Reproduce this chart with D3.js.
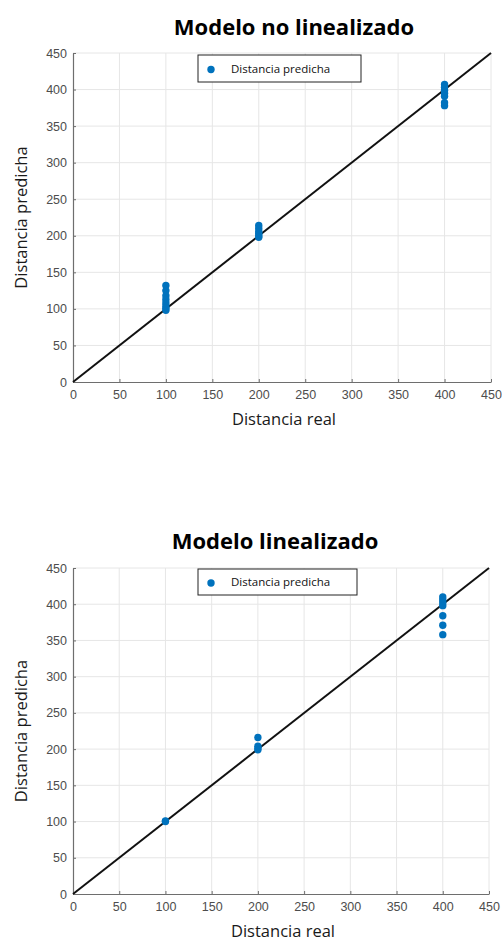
<!DOCTYPE html>
<html><head><meta charset="utf-8">
<script src="https://cdn.jsdelivr.net/npm/d3@7"></script>
<style>body{margin:0;background:#fff}svg{display:block}</style>
</head><body>
<script>
const ticks = [0,50,100,150,200,250,300,350,400,450];
const titles = ["Modelo no linealizado", "Modelo linealizado"];
const xLabel = "Distancia real";
const yLabel = "Distancia predicha";
const legendLabel = "Distancia predicha";
// Chart 1: non-linearized model
const real1 = [100,100,100,100,100,100,100,100, 200,200,200,200,200,200, 400,400,400,400,400,400,400];
const pred1 = [132,125,118,113,108,104,101,98, 214,210,206,203,200,198, 407,403,399,395,391,382,378];
// Chart 2: linearized model
const real2 = [100,100, 200,200,200,200, 400,400,400,400,400,400,400];
const pred2 = [101,100, 216,204,201,199, 410,406,402,398,384,371,358];

const W = 502, H = 941;
const svg = d3.select("body").append("svg").attr("width", W).attr("height", H);

const panels = [
  {title: titles[0], real: real1, pred: pred1, x0: 73, x1: 491, y0: 382, y1: 53, titleX: 294, titleY: 35,
   leg: {x: 198, y: 55, w: 163, h: 27}},
  {title: titles[1], real: real2, pred: pred2, x0: 73, x1: 489, y0: 894, y1: 568, titleX: 275, titleY: 549,
   leg: {x: 198, y: 569, w: 159, h: 26}}
];

panels.forEach(p => {
  const x = d3.scaleLinear().domain([0,450]).range([p.x0, p.x1]);
  const y = d3.scaleLinear().domain([0,450]).range([p.y0, p.y1]);
  const g = svg.append("g");

  // grid
  g.append("g").selectAll("line").data(ticks.slice(1)).join("line")
    .attr("x1", d => x(d)).attr("x2", d => x(d)).attr("y1", p.y0).attr("y2", p.y1)
    .attr("stroke", "#e6e6e6").attr("stroke-width", 1);
  g.append("g").selectAll("line").data(ticks.slice(1)).join("line")
    .attr("y1", d => y(d)).attr("y2", d => y(d)).attr("x1", p.x0).attr("x2", p.x1)
    .attr("stroke", "#e6e6e6").attr("stroke-width", 1);

  // axes (ticks pointing inward)
  const xa = g.append("g").attr("transform", `translate(0,${p.y0})`)
    .call(d3.axisBottom(x).tickValues(ticks).tickSizeInner(-3).tickSizeOuter(0).tickPadding(8));
  const ya = g.append("g").attr("transform", `translate(${p.x0},0)`)
    .call(d3.axisLeft(y).tickValues(ticks).tickSizeInner(-3).tickSizeOuter(0).tickPadding(6));
  [xa, ya].forEach(a => {
    a.select(".domain").attr("stroke", "#6e6e6e").attr("stroke-width", 1.2);
    a.selectAll(".tick line").attr("stroke", "#6e6e6e");
    a.selectAll("text").attr("fill", "#4d4d4d").attr("font-family", "Liberation Sans, Arial, sans-serif").attr("font-size", 12.5);
  });
  xa.selectAll("text").attr("dy", "0.71em");

  // diagonal reference line
  g.append("line").attr("x1", x(0)).attr("y1", y(0)).attr("x2", x(450)).attr("y2", y(450))
    .attr("stroke", "#111").attr("stroke-width", 2);

  // points
  g.append("g").selectAll("circle").data(p.real.map((r,i) => [r, p.pred[i]])).join("circle")
    .attr("cx", d => x(d[0])).attr("cy", d => y(d[1])).attr("r", 3.7)
    .attr("fill", "#0072BD");

  // title
  svg.append("text").attr("x", p.titleX).attr("y", p.titleY).attr("text-anchor", "middle")
    .attr("font-family", "Open Sans, sans-serif").attr("font-weight", "bold").attr("font-size", 22)
    .attr("fill", "#000").text(p.title);

  // axis labels
  svg.append("text").attr("x", (p.x0 + p.x1)/2 + 2).attr("y", p.y0 + 43).attr("text-anchor", "middle")
    .attr("font-family", "Open Sans, sans-serif").attr("font-size", 16.5).attr("fill", "#1a1a1a").text(xLabel);
  svg.append("text").attr("transform", `translate(27,${(p.y0 + p.y1)/2}) rotate(-90)`).attr("text-anchor", "middle")
    .attr("font-family", "Open Sans, sans-serif").attr("font-size", 16.5).attr("fill", "#1a1a1a").text(yLabel);

  // legend
  const L = p.leg;
  svg.append("rect").attr("x", L.x).attr("y", L.y).attr("width", L.w).attr("height", L.h)
    .attr("fill", "#fff").attr("stroke", "#222").attr("stroke-width", 1);
  svg.append("circle").attr("cx", L.x + 13).attr("cy", L.y + L.h/2 + 1).attr("r", 3.7).attr("fill", "#0072BD");
  svg.append("text").attr("x", L.x + 33).attr("y", L.y + L.h/2 + 4).attr("font-family", "Open Sans, sans-serif")
    .attr("font-size", 11.5).attr("fill", "#111").text(legendLabel);
});
</script>
</body></html>
